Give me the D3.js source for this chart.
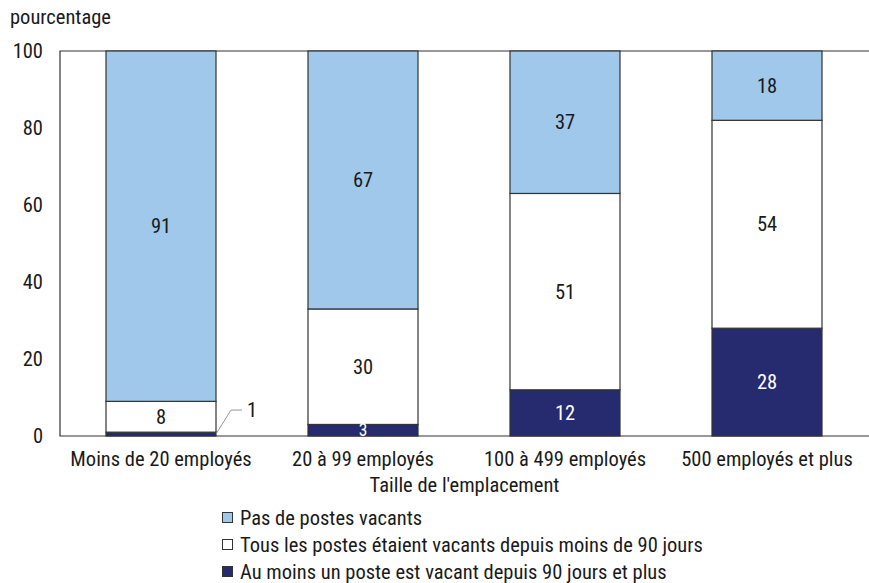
<!DOCTYPE html>
<html>
<head>
<meta charset="utf-8">
<script src="https://cdn.jsdelivr.net/npm/d3@7"></script>
<style>
body { margin: 0; background: #fff; }
svg text { font-family: "Liberation Sans Narrow", "Arial Narrow", "Roboto Condensed", "Liberation Sans", sans-serif; fill: #1a1a1a; }
</style>
</head>
<body>
<svg id="chart" width="869" height="583"></svg>
<script>
// data
const categories = ["Moins de 20 employés", "20 à 99 employés", "100 à 499 employés", "500 employés et plus"];
const seriesNames = [
    "Au moins un poste est vacant depuis 90 jours et plus",
    "Tous les postes étaient vacants depuis moins de 90 jours",
    "Pas de postes vacants"
];
const longVacancy = [1, 3, 12, 28];
const shortVacancy = [8, 30, 51, 54];
const noVacancy = [91, 67, 37, 18];
const yTicks = [0, 20, 40, 60, 80, 100];

const colors = ["#262a6e", "#ffffff", "#9fc8ea"];
const labelColors = ["#ffffff", "#1a1a1a", "#1a1a1a"];

const svg = d3.select("#chart");
const margin = { top: 51, right: 0, bottom: 147, left: 60 };
const width = 869, height = 583;
const fs = 20.5;

const rows = categories.map((c, i) => ({
    cat: c, long: longVacancy[i], short: shortVacancy[i], none: noVacancy[i]
}));
const keys = ["long", "short", "none"];
const stacked = d3.stack().keys(keys)(rows);

const x = d3.scaleBand()
    .domain(categories)
    .range([margin.left, 868])
    .padding(0);
const barW = 110;
const y = d3.scaleLinear()
    .domain([0, 100])
    .range([436, margin.top]);

// frame
const frame = svg.append("g").attr("stroke", "#333").attr("stroke-width", 1.2).attr("fill", "none");
frame.append("path")
    .attr("d", `M${width},${y(100)}H${margin.left}V${y(0)}H${width}`);

// y axis labels
svg.append("g")
    .selectAll("text")
    .data(yTicks)
    .join("text")
    .attr("x", 43)
    .attr("y", d => y(d))
    .attr("dy", "0.35em")
    .attr("text-anchor", "end")
    .style("font-size", fs + "px")
    .text(d => d);

svg.append("text")
    .attr("x", 10)
    .attr("y", 24)
    .style("font-size", fs + "px")
    .text("pourcentage");

// bars
const layers = svg.append("g").selectAll("g")
    .data(stacked)
    .join("g")
    .attr("fill", (d, i) => colors[i]);

layers.selectAll("rect")
    .data(d => d)
    .join("rect")
    .attr("x", d => x(d.data.cat) + x.bandwidth() / 2 - barW / 2)
    .attr("width", barW)
    .attr("y", d => y(Math.min(d[1], 100)))
    .attr("height", d => y(d[0]) - y(Math.min(d[1], 100)))
    .attr("stroke", "#333")
    .attr("stroke-width", 1.2);

// value labels
stacked.forEach((layer, li) => {
    layer.forEach(d => {
        const v = d[1] - d[0];
        if (v < 2) return; // small values get a callout
        const cx = x(d.data.cat) + x.bandwidth() / 2;
        let cy = (y(d[0]) + y(Math.min(d[1], 100))) / 2;
        if (v < 5) cy = y(d[0]) + 1;
        svg.append("text")
            .attr("x", cx)
            .attr("y", cy)
            .attr("dy", v < 5 ? "-0.05em" : "0.35em")
            .attr("text-anchor", "middle")
            .style("font-size", (v < 5 ? fs - 3 : fs) + "px")
            .style("fill", labelColors[li])
            .text(v);
    });
});

// callout for tiny value
const small = stacked[0][0];
const bx = x(small.data.cat) + x.bandwidth() / 2 + barW / 2;
const by = y(small[1] / 2);
svg.append("path")
    .attr("d", `M${bx},${by}L${bx + 15},${by - 24}H${bx + 26}`)
    .attr("fill", "none")
    .attr("stroke", "#999")
    .attr("stroke-width", 1);
svg.append("text")
    .attr("x", bx + 31)
    .attr("y", by - 24)
    .attr("dy", "0.35em")
    .style("font-size", fs + "px")
    .text(small[1] - small[0]);

// x labels
svg.append("g")
    .selectAll("text")
    .data(categories)
    .join("text")
    .attr("x", d => x(d) + x.bandwidth() / 2)
    .attr("y", y(0) + 23)
    .attr("dy", "0.35em")
    .attr("text-anchor", "middle")
    .style("font-size", fs + "px")
    .text(d => d);

svg.append("text")
    .attr("x", (margin.left + width) / 2)
    .attr("y", y(0) + 49)
    .attr("dy", "0.35em")
    .attr("text-anchor", "middle")
    .style("font-size", fs + "px")
    .text("Taille de l'emplacement");

// legend
const legendOrder = [2, 1, 0];
const legend = svg.append("g").attr("transform", "translate(222, 518)");
legendOrder.forEach((si, i) => {
    const g = legend.append("g").attr("transform", `translate(0, ${i * 27})`);
    g.append("rect")
        .attr("x", 0.5)
        .attr("y", -5.5)
        .attr("width", 10)
        .attr("height", 10)
        .attr("fill", colors[si])
        .attr("stroke", "#333")
        .attr("stroke-width", 1);
    g.append("text")
        .attr("x", 18)
        .attr("y", 0)
        .attr("dy", "0.35em")
        .style("font-size", fs + "px")
        .text(seriesNames[si]);
});
</script>
</body>
</html>
